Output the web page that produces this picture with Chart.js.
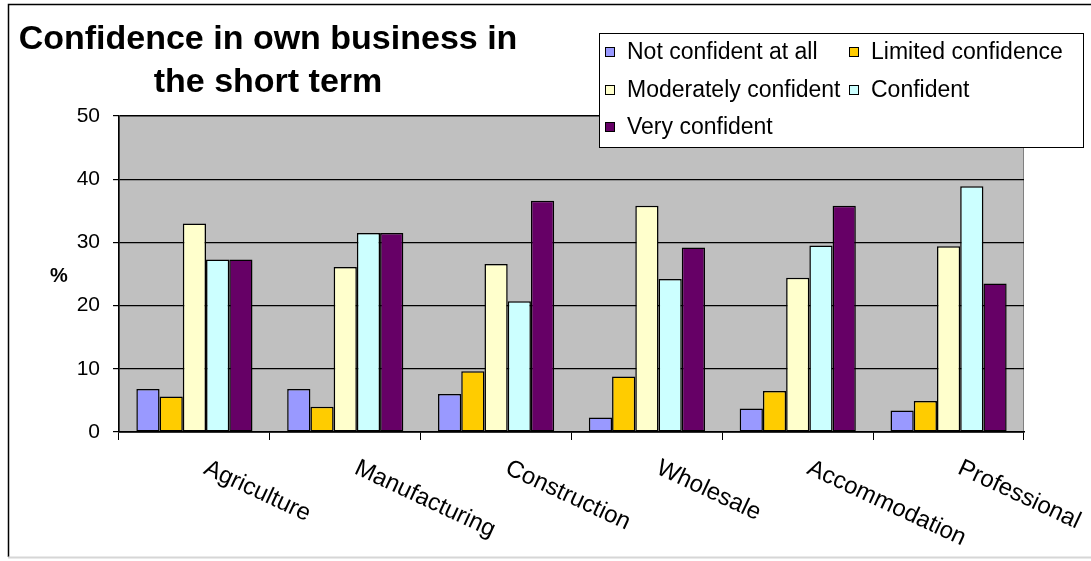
<!DOCTYPE html>
<html>
<head>
<meta charset="utf-8">
<script src="https://cdn.jsdelivr.net/npm/chart.js@4/dist/chart.umd.min.js"></script>
<style>
  html, body { margin: 0; padding: 0; background: #fff; }
  #wrap { width: 1091px; height: 561px; position: relative; }
</style>
</head>
<body>
<div id="wrap"><canvas id="c" width="1091" height="561"></canvas></div>
<script>
// Sectors and survey shares (%) per confidence level
const categories = ['Agriculture', 'Manufacturing', 'Construction', 'Wholesale', 'Accommodation', 'Professional'];
const notConfident        = [6.8, 6.8, 6.0, 2.3, 3.7, 3.4];
const limitedConfidence   = [5.6, 4.0, 9.6, 8.8, 6.5, 4.9];
const moderatelyConfident = [33.0, 26.1, 26.6, 35.8, 24.4, 29.4];
const confident           = [27.3, 31.5, 20.7, 24.2, 29.5, 38.9];
const veryConfident       = [27.3, 31.5, 36.6, 29.2, 35.8, 23.5];
const seriesNames = ['Not confident at all', 'Limited confidence', 'Moderately confident', 'Confident', 'Very confident'];
const yTickValues = [0, 10, 20, 30, 40, 50];
const titleLines = ['Confidence in own business in', 'the short term'];
const yAxisLabel = '%';

const FONT = "'Liberation Sans', Arial, Helvetica, sans-serif";
Chart.defaults.font.family = FONT;
Chart.defaults.color = '#000';

const palette = ['#9999FF', '#FFCC00', '#FFFFCC', '#CCFFFF', '#660066'];
const values = [notConfident, limitedConfidence, moderatelyConfident, confident, veryConfident];

const datasets = seriesNames.map((name, i) => ({
  label: name,
  data: values[i],
  backgroundColor: palette[i],
  borderColor: '#000',
  borderWidth: 1.5,
  borderSkipped: false,
  categoryPercentage: 0.77,
  barPercentage: 1.0
}));

// Plot-area fill, frame, title, axis label, slanted category names and boxed legend
const decor = {
  id: 'decor',
  beforeDraw(chart) {
    const ctx = chart.ctx;
    const a = chart.chartArea;
    ctx.save();
    ctx.fillStyle = '#fff';
    ctx.fillRect(0, 0, chart.width, chart.height);
    // outer frame
    ctx.strokeStyle = '#000';
    ctx.lineWidth = 1.5;
    ctx.beginPath();
    ctx.moveTo(8.5, 557);
    ctx.lineTo(8.5, 4.5);
    ctx.lineTo(chart.width + 2, 4.5);
    ctx.stroke();
    ctx.strokeStyle = '#d6d6d6';
    ctx.lineWidth = 2;
    ctx.beginPath();
    ctx.moveTo(8, 557.5);
    ctx.lineTo(chart.width, 557.5);
    ctx.stroke();
    // plot area
    ctx.fillStyle = '#C0C0C0';
    ctx.fillRect(a.left, a.top, a.right - a.left, a.bottom - a.top);
    ctx.strokeStyle = '#808080';
    ctx.lineWidth = 1;
    ctx.strokeRect(a.left + 0.5, a.top + 0.5, a.right - a.left - 1, a.bottom - a.top);
    ctx.restore();
  },
  afterDraw(chart) {
    const ctx = chart.ctx;
    const xs = chart.scales.x;
    const ys = chart.scales.y;
    ctx.save();

    // title
    ctx.fillStyle = '#000';
    ctx.font = 'bold 34px ' + FONT;
    ctx.textAlign = 'center';
    ctx.textBaseline = 'alphabetic';
    ctx.fillText(titleLines[0], 268, 49);
    ctx.fillText(titleLines[1], 268, 92);

    // y-axis label
    ctx.font = 'bold 20px ' + FONT;
    ctx.fillText(yAxisLabel, 59, (ys.top + ys.bottom) / 2 + 8);

    // category names, slanted downward
    ctx.font = '24px ' + FONT;
    ctx.textAlign = 'left';
    chart.data.labels.forEach((lab, i) => {
      const x = xs.getPixelForValue(i) + 8;
      const y = xs.top + 41;
      ctx.save();
      ctx.translate(x, y);
      ctx.rotate(25 * Math.PI / 180);
      ctx.fillText(lab, 0, 0);
      ctx.restore();
    });

    // legend box
    const lx = 599, ly = 33, lw = 484, lh = 114;
    ctx.fillStyle = '#fff';
    ctx.fillRect(lx, ly, lw, lh);
    ctx.strokeStyle = '#000';
    ctx.lineWidth = 1;
    ctx.strokeRect(lx + 0.5, ly + 0.5, lw, lh);
    ctx.font = '23px ' + FONT;
    ctx.textBaseline = 'middle';
    const colX = [605, 849];
    const rowY = [52, 90, 127];
    chart.data.datasets.forEach((ds, i) => {
      const cx = colX[i % 2];
      const cy = rowY[Math.floor(i / 2)];
      ctx.fillStyle = ds.backgroundColor;
      ctx.fillRect(cx, cy - 5, 10, 10);
      ctx.strokeStyle = '#000';
      ctx.strokeRect(cx + 0.5, cy - 4.5, 9, 9);
      ctx.fillStyle = '#000';
      ctx.fillText(ds.label, cx + 22, cy + 1);
    });
    ctx.restore();
  }
};

new Chart(document.getElementById('c'), {
  type: 'bar',
  data: { labels: categories, datasets },
  options: {
    responsive: false,
    animation: false,
    devicePixelRatio: 1,
    layout: { padding: { left: 8, right: 67, top: 116, bottom: 119 } },
    plugins: { legend: { display: false }, title: { display: false }, tooltip: { enabled: false } },
    scales: {
      x: {
        grid: { display: true, drawOnChartArea: false, drawTicks: true, tickLength: 8, color: '#000', lineWidth: 1, offset: true },
        border: { display: true, color: '#000', width: 1.5 },
        ticks: { display: false },
        afterFit(scale) { scale.height = 10; }
      },
      y: {
        min: yTickValues[0],
        max: yTickValues[yTickValues.length - 1],
        afterBuildTicks(scale) { scale.ticks = yTickValues.map(v => ({ value: v })); },
        ticks: { stepSize: 10, font: { size: 21 }, color: '#000', padding: 13 },
        grid: { color: '#000', lineWidth: 1.2, tickLength: 6, drawTicks: true },
        border: { display: true, color: '#000', width: 1.5 },
        afterFit(scale) { scale.width = 111; }
      }
    }
  },
  plugins: [decor]
});
</script>
</body>
</html>
